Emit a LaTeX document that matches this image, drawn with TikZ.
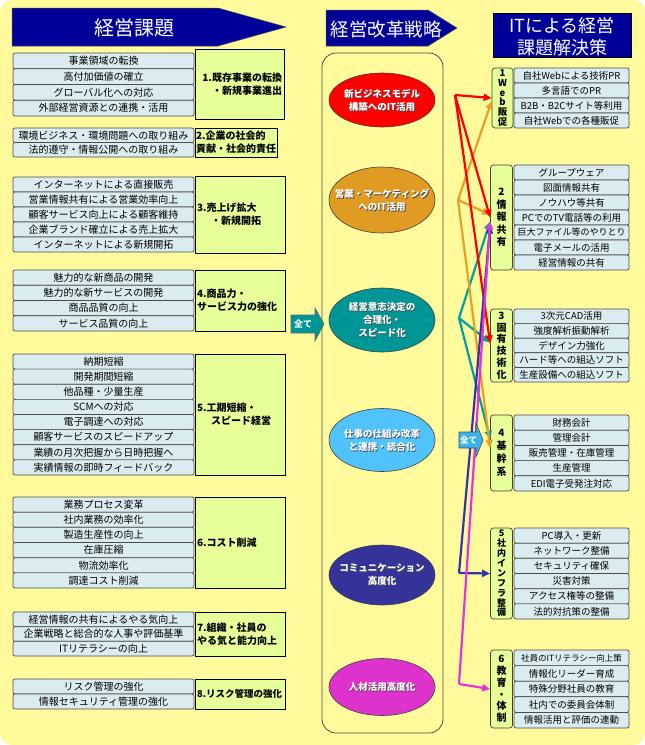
\documentclass[tikz,border=0pt]{standalone}
\usepackage{fontspec}
\setmainfont{Noto Sans CJK JP}
\usetikzlibrary{arrows.meta,shapes.geometric}
\definecolor{bgy}{RGB}{255,250,155}
\definecolor{navyh}{RGB}{0,0,153}
\definecolor{itemc}{RGB}{218,236,240}
\definecolor{lblg}{RGB}{230,255,153}
\definecolor{ered}{RGB}{255,0,0}
\definecolor{eora}{RGB}{224,155,35}
\definecolor{etea}{RGB}{0,150,150}
\definecolor{eblu}{RGB}{80,195,250}
\definecolor{enav}{RGB}{51,51,153}
\definecolor{emag}{RGB}{221,51,204}
\definecolor{lora}{RGB}{230,160,40}
\definecolor{ltea}{RGB}{0,160,160}
\definecolor{lnav}{RGB}{51,51,170}
\definecolor{lmag}{RGB}{230,50,220}
\definecolor{allblue}{RGB}{60,180,235}
\tikzset{
  litem/.style={draw=black!70, fill=itemc, rounded corners=2pt, line width=0.7pt,
    minimum width=181pt, inner sep=0pt, font=\fontsize{10}{11}\selectfont},
  ritem/.style={draw=black!70, fill=itemc, rounded corners=2pt, line width=0.7pt,
    minimum width=115pt, inner sep=0pt, font=\fontsize{9.5}{10}\selectfont},
  llab/.style={draw=black, fill=lblg, line width=0.7pt, inner xsep=2pt, inner ysep=0pt,
    font=\bfseries\fontsize{10}{13}\selectfont},
  rlab/.style={draw=black!75, fill=lblg, rounded corners=3pt, line width=0.7pt,
    minimum width=22pt, inner sep=0pt, align=center},
  ell/.style={ellipse, draw=black!75, line width=0.6pt, minimum width=106pt, inner sep=0pt},
  etext/.style={text=white, align=center, font=\bfseries\fontsize{9.5}{13}\selectfont},
  eshad/.style={text=black!70, align=center, font=\bfseries\fontsize{9.5}{13}\selectfont},
  htext/.style={text=white, inner sep=0pt},
  conn/.style={line width=2.2pt, -{Triangle[length=8pt,width=7pt]}},
}
\newcommand\mkleftgroup[4]{%
  \foreach \itx [count=\i] in {#4} {%
    \node[litem, minimum height=#3pt] (#1-\i) at (103.5,{#2+#3*(\i-0.5)}) {\itx};}}
\newcommand\mkrightgroup[4]{%
  \foreach \itx [count=\i] in {#4} {%
    \node[ritem, minimum height=#3pt] (#1-\i) at (571.5,{#2+#3*(\i-0.5)}) {\itx};}}
\begin{document}
\begin{tikzpicture}[x=1pt,y=-1pt]
\useasboundingbox (0,0) rectangle (645,745);
\fill[white] (0,0) rectangle (645,745);
\fill[bgy, rounded corners=12pt] (0,0) rectangle (645,745);

% headers
\filldraw[fill=navyh, draw=black!70, line width=0.5pt] (12,8) -- (218,8) -- (286,27) -- (218,46) -- (12,46) -- cycle;
\node[htext, font=\fontsize{20}{20}\selectfont] (h1) at (134,27.5) {経営課題};
\filldraw[fill=navyh, draw=black!70, line width=0.5pt] (326,10) -- (428,10) -- (457,28) -- (428,46) -- (326,46) -- cycle;
\node[htext, font=\fontsize{18.5}{18.5}\selectfont] (h2) at (386,29) {経営改革戦略};
\node[draw=black, fill=navyh, minimum width=138pt, minimum height=44pt, inner sep=0pt] (h3) at (562,35) {};
\node[htext, align=center, font=\fontsize{18}{22}\selectfont] (h3t) at (562,37) {ITによる経営\\課題解決策};

% middle column
\node[draw=black!70, fill=bgy, rounded corners=14pt, minimum width=121pt, minimum height=680pt, line width=0.8pt] (mid) at (382.5,393) {};

\node[ell, fill=ered, minimum height=54pt] (e1) at (382,100) {};
\node[eshad] (e1s) at ([xshift=0.9pt,yshift=-0.9pt]e1.center) {新ビジネスモデル\\構築へのIT活用};
\node[etext] (e1t) at (e1.center) {新ビジネスモデル\\構築へのIT活用};
\node[ell, fill=eora, minimum height=66pt] (e2) at (382,200) {};
\node[eshad] (e2s) at ([xshift=0.9pt,yshift=-0.9pt]e2.center) {営業・マーケティング\\へのIT活用};
\node[etext] (e2t) at (e2.center) {営業・マーケティング\\へのIT活用};
\node[ell, fill=etea, minimum height=64pt] (e3) at (382,320) {};
\node[eshad] (e3s) at ([xshift=0.9pt,yshift=-0.9pt]e3.center) {経営意志決定の\\合理化・\\スピード化};
\node[etext] (e3t) at (e3.center) {経営意志決定の\\合理化・\\スピード化};
\node[ell, fill=eblu, minimum height=63pt] (e4) at (382,440) {};
\node[eshad] (e4s) at ([xshift=0.9pt,yshift=-0.9pt]e4.center) {仕事の仕組み改革\\と連携・統合化};
\node[etext] (e4t) at (e4.center) {仕事の仕組み改革\\と連携・統合化};
\node[ell, fill=enav, minimum height=60pt] (e5) at (382,575) {};
\node[eshad] (e5s) at ([xshift=0.9pt,yshift=-0.9pt]e5.center) {コミュニケーション\\高度化};
\node[etext] (e5t) at (e5.center) {コミュニケーション\\高度化};
\node[ell, fill=emag, minimum height=57pt] (e6) at (382,687) {};
\node[eshad] (e6s) at ([xshift=0.9pt,yshift=-0.9pt]e6.center) {人材活用高度化};
\node[etext] (e6t) at (e6.center) {人材活用高度化};

% left groups
\mkleftgroup{g1}{53}{15.75}{事業領域の転換,高付加価値の確立,グローバル化への対応,外部経営資源との連携・活用}
\node[llab, text width=85pt, minimum height=70pt, align=right] (L1) at (239.5,84) {1.既存事業の転換\\・新規事業進出};
\mkleftgroup{g2}{128}{14.5}{環境ビジネス・環境問題への取り組み,法的遵守・情報公開への取り組み}
\node[llab, inner xsep=1pt, text width=80pt, minimum height=29pt, align=left] (L2) at (236,142.5) {2.企業の社会的\\貢献・社会的責任};
\mkleftgroup{g3}{177}{15}{インターネットによる直接販売,営業情報共有による営業効率向上,顧客サービス向上による顧客維持,企業ブランド確立による売上拡大,インターネットによる新規開拓}
\node[llab, text width=86pt, minimum height=77pt, align=left] (L3) at (240,214.5) {3.売上げ拡大\\\hspace*{14pt}・新規開拓};
\mkleftgroup{g4}{270}{15.25}{魅力的な新商品の開発,魅力的な新サービスの開発,商品品質の向上,サービス品質の向上}
\node[llab, text width=86pt, minimum height=61pt, align=left] (L4) at (240,300.5) {4.商品力・\\サービス力の強化};
\mkleftgroup{g5}{354}{15.125}{納期短縮,開発期間短縮,他品種・少量生産,SCMへの対応,電子調達への対応,顧客サービスのスピードアップ,業績の月次把握から日時把握へ,実績情報の即時フィードバック}
\node[llab, text width=86pt, minimum height=121pt, align=left] (L5) at (240,414.5) {5.工期短縮・\\\hspace*{14pt}スピード経営};
\mkleftgroup{g6}{497}{15.17}{業務プロセス変革,社内業務の効率化,製造生産性の向上,在庫圧縮,物流効率化,調達コスト削減}
\node[llab, text width=86pt, minimum height=91pt, align=left] (L6) at (240,542.5) {6.コスト削減};
\mkleftgroup{g7}{612}{14.67}{経営情報の共有によるやる気向上,企業戦略と総合的な人事や評価基準,ITリテラシーの向上}
\node[llab, text width=86pt, minimum height=44pt, align=left] (L7) at (240,634) {7.組織・社員の\\やる気と能力向上};
\mkleftgroup{g8}{679}{15}{リスク管理の強化,情報セキュリティ管理の強化}
\node[llab, text width=86pt, minimum height=30pt, align=left, font=\bfseries\fontsize{9.5}{12}\selectfont] (L8) at (240,694) {8.リスク管理の強化};

% left "all" arrow
\filldraw[fill=etea, draw=black!60, line width=0.6pt] (291,315) -- (315,315) -- (315,308) -- (324,324) -- (315,341) -- (315,333) -- (291,333) -- cycle;
\node[text=white, font=\bfseries\fontsize{9}{9}\selectfont, inner sep=0pt] (allL) at (303,324) {全て};

% right groups
\mkrightgroup{i1}{68}{15}{自社Webによる技術PR,多言語でのPR,B2B・B2Cサイト等利用,自社Webでの各種販促}
\node[rlab, minimum width=21pt, minimum height=60pt, font=\bfseries\fontsize{9.5}{9.8}\selectfont] (R1) at (502.5,98) {1\\W\\e\\b\\販\\促};
\mkrightgroup{i2}{165}{15}{グループウェア,図面情報共有,ノウハウ等共有,PCでのTV電話等の利用,{{\fontsize{9}{10}\selectfont 巨大ファイル等のやりとり}},電子メールの活用,経営情報の共有}
\node[rlab, minimum height=105pt, font=\bfseries\fontsize{10}{12.5}\selectfont] (R2) at (501.5,217.5) {2\\情\\報\\共\\有};
\mkrightgroup{i3}{309}{14.6}{3次元CAD活用,強度解析振動解析,デザイン力強化,ハード等への組込ソフト,生産設備への組込ソフト}
\node[rlab, minimum height=73pt, font=\bfseries\fontsize{10}{11.8}\selectfont] (R3) at (501.5,345.5) {3\\固\\有\\技\\術\\化};
\mkrightgroup{i4}{415}{15.2}{財務会計,管理会計,販売管理・在庫管理,生産管理,EDI電子受発注対応}
\node[rlab, minimum height=76pt, font=\bfseries\fontsize{10}{13}\selectfont] (R4) at (501.5,453) {4\\基\\幹\\系};
\mkrightgroup{i5}{528}{15.17}{PC導入・更新,ネットワーク整備,セキュリティ確保,災害対策,アクセス権等の整備,法的対抗策の整備}
\node[rlab, minimum height=91pt, font=\bfseries\fontsize{9}{9.9}\selectfont] (R5) at (501.5,573.5) {5\\社\\内\\イ\\ン\\フ\\ラ\\整\\備};
\mkrightgroup{i6}{650}{15.6}{{{\fontsize{8.5}{10}\selectfont 社員のITリテラシー向上策}},情報化リーダー育成,特殊分野社員の教育,社内での委員会体制,情報活用と評価の連動}
\node[rlab, minimum height=78pt, font=\bfseries\fontsize{10}{11.8}\selectfont] (R6) at (501.5,689) {6\\教\\育\\・\\体\\制};

% connectors
\coordinate (rv) at (455,95);
\coordinate (ov) at (458,200);
\coordinate (tv) at (459,318);
\coordinate (nv) at (459,573);
\coordinate (mv) at (459,684);

\draw[conn, ltea] (tv) -- ([yshift=-4pt]R2.west);
\draw[conn, ltea] (tv) -- ([yshift=3pt]R3.west);
\draw[conn, ltea] (tv) -- ([yshift=14pt]R4.west);
\draw[conn, lora] (ov) -- ([yshift=-3pt]R1.west);
\draw[conn, lora] (ov) -- ([yshift=3pt]R2.west);
\draw[conn, lora] (ov) -- ([yshift=5pt]R4.west);
\draw[conn, ered] (rv) -- (R1.west);
\draw[conn, ered] (rv) -- (R2.west);
\draw[conn, ered] (rv) -- ([yshift=2pt]R3.west);
\draw[conn, lnav] (nv) -- ([yshift=-8pt]R2.west);
\draw[conn, lnav] (nv) -- (R5.west);
\draw[conn, lmag] (mv) -- ([yshift=-4pt]R2.west);
\draw[conn, lmag] (mv) -- (R6.west);

% right "all" arrow
\filldraw[fill=allblue, draw=black!70, line width=0.6pt] (459,432) -- (476,432) -- (476,423) -- (483,440) -- (476,457) -- (476,448) -- (459,448) -- cycle;
\node[text=white, font=\bfseries\fontsize{8.5}{8.5}\selectfont, inner sep=0pt] (allR) at (468.5,440) {全て};
\end{tikzpicture}
\end{document}
